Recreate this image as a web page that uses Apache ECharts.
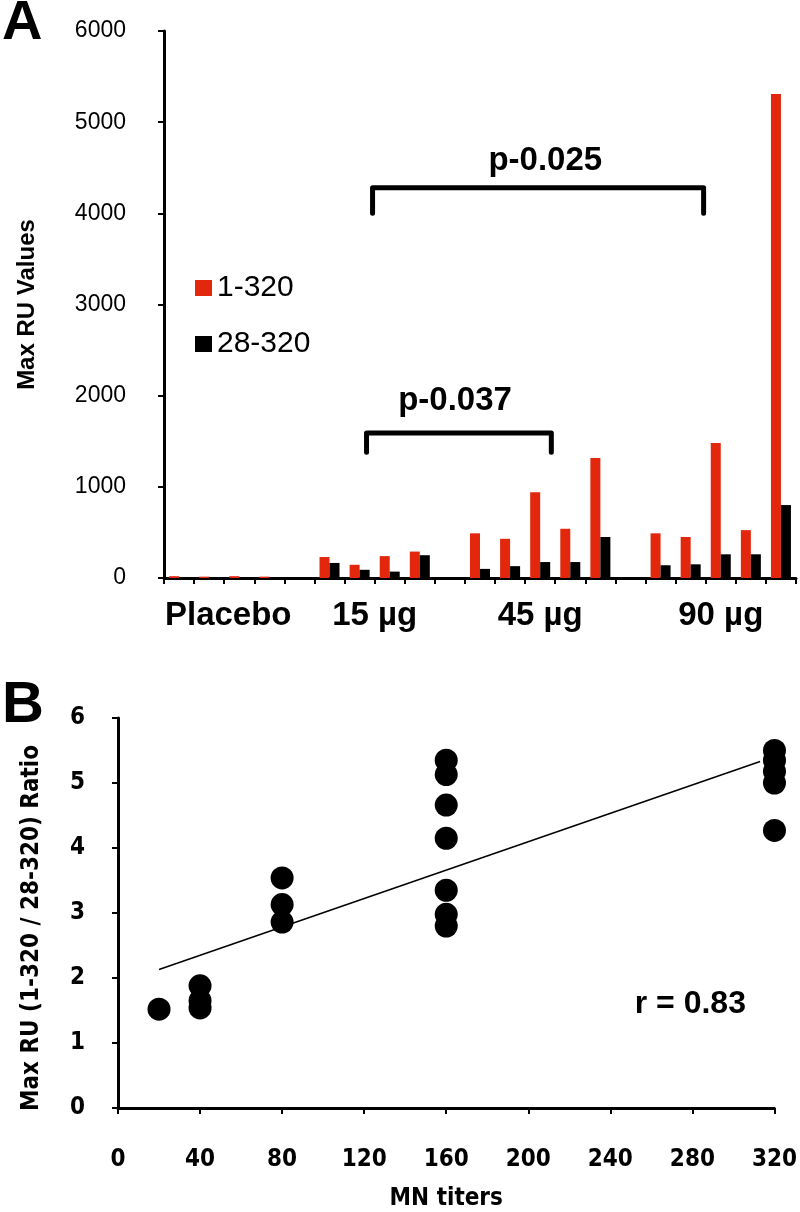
<!DOCTYPE html>
<html><head><meta charset="utf-8">
<script src="https://cdn.jsdelivr.net/npm/echarts@6/dist/echarts.min.js"></script>
<style>html,body{margin:0;padding:0;background:#fff}#c{width:800px;height:1212px}</style>
</head><body><div id="c"></div>
<script>
// ---------- Panel A data ----------
const categories = ['P1','P2','P3','P4','g1','15-1','15-2','15-3','15-4','g2','45-1','45-2','45-3','45-4','45-5','g3','90-1','90-2','90-3','90-4','90-5'];
const groupLabels = {'P3':'Placebo','15-3':'15 µg','45-3':'45 µg','90-3':'90 µg'};
const ru1_320  = [20,15,20,15,null,230,145,240,290,null,490,430,940,540,1315,null,490,450,1480,525,5310];
const ru28_320 = [4,4,4,4,null,165,90,70,250,null,100,130,175,175,450,null,140,150,260,260,800];
const yMaxA = 6000, yStepA = 1000;
// brackets in (category index, value) units
const bracket025 = [[6.43,4000],[6.43,4280],[17.43,4280],[17.43,4000]];
const bracket037 = [[6.23,1380],[6.23,1590],[12.37,1590],[12.37,1380]];
const pLabels = [{name:'p-0.025', value:[12.17,4572]},{name:'p-0.037', value:[9.17,1940]}];

// ---------- Panel B data ----------
const titers = [20, 40,40,40, 80,80,80, 160,160,160,160,160,160,160, 320,320,320,320,320];
const ratios = [1.52, 1.88,1.65,1.54, 3.54,3.13,2.86, 5.35,5.13,4.66,4.15,3.35,2.98,2.80, 5.50,5.35,5.18,5.00,4.27];
const fitLine = [[20,2.13],[313,5.33]];
const rLabel = [{name:'r = 0.83', value:[279,1.59]}];
const xMaxB = 320, xStepB = 40, yMaxB = 6, yStepB = 1;

const SANS = "'Liberation Sans', Arial, Helvetica, sans-serif";
const NARROW = "'Liberation Sans Narrow', 'DejaVu Sans Condensed', 'Liberation Sans', sans-serif";
const RED = '#e2270d';

const chart = echarts.init(document.getElementById('c'), null, {renderer:'canvas'});
const bScatter = titers.map((t,i)=>[t, ratios[i]]);

const option = {
  animation:false,
  backgroundColor:'#fff',
  graphic:[
    {type:'text', left:2, top:-4, style:{text:'A', font:'bold 56px ' + SANS, fill:'#000'}},
    {type:'text', left:2, top:677, style:{text:'B', font:'bold 58px ' + SANS, fill:'#000'}}
  ],
  legend:{
    data:['1-320','28-320'], orient:'vertical', left:190, top:268,
    icon:'rect', itemWidth:17, itemHeight:16, itemGap:26,
    textStyle:{fontSize:30, lineHeight:30, color:'#000', fontFamily:SANS}
  },
  grid:[
    {left:164, right:4, top:31, height:547},
    {left:118, width:667, top:718, height:393}
  ],
  xAxis:[
    {type:'category', gridIndex:0, data:categories,
     axisLine:{onZero:false, lineStyle:{color:'#000', width:3}},
     axisTick:{show:true, interval:0, length:6, lineStyle:{color:'#000', width:2}},
     axisLabel:{interval:0, margin:21, color:'#000', fontSize:33, fontWeight:'bold', fontFamily:SANS,
       formatter:(v)=>{
         const t = groupLabels[v]; if(!t) return '';
         if(v==='P3') return '{a|'+t+'}';
         if(v==='15-3') return '{b|'+t+'}';
         return '{c|'+t+'}';
       },
       rich:{
         a:{padding:[0,22,0,0], fontSize:33, fontWeight:'bold', fontFamily:SANS, color:'#000'},
         b:{padding:[0,30,0,0], fontSize:33, fontWeight:'bold', fontFamily:SANS, color:'#000'},
         c:{fontSize:33, fontWeight:'bold', fontFamily:SANS, color:'#000'}
       }},
     splitLine:{show:false}},
    {type:'value', gridIndex:0, min:-0.5, max:20.5, show:false, axisLine:{onZero:false}},
    {type:'value', gridIndex:1, min:0, max:xMaxB, interval:xStepB,
     axisLine:{onZero:false, lineStyle:{color:'#000', width:3}},
     axisTick:{show:true, length:6, lineStyle:{color:'#000', width:2}},
     axisLabel:{margin:40, color:'#000', fontSize:24, fontWeight:'bold', fontFamily:NARROW},
     splitLine:{show:false},
     name:'MN titers', nameLocation:'middle', nameGap:79,
     nameTextStyle:{color:'#000', fontSize:24, fontWeight:'bold', fontFamily:NARROW}}
  ],
  yAxis:[
    {type:'value', gridIndex:0, min:0, max:yMaxA, interval:yStepA,
     axisLine:{show:true, onZero:false, lineStyle:{color:'#000', width:3}},
     axisTick:{show:true, length:6, lineStyle:{color:'#000', width:2}},
     axisLabel:{margin:38, color:'#000', fontSize:23, fontFamily:SANS, formatter:(v)=>String(v)},
     splitLine:{show:false},
     name:'Max RU Values', nameLocation:'middle', nameRotate:90, nameGap:125,
     nameTextStyle:{color:'#000', fontSize:24, fontWeight:'bold', fontFamily:SANS}},
    {type:'value', gridIndex:1, min:0, max:yMaxB, interval:yStepB,
     axisLine:{show:true, onZero:false, lineStyle:{color:'#000', width:3}},
     axisTick:{show:true, length:6, lineStyle:{color:'#000', width:2}},
     axisLabel:{margin:33, color:'#000', fontSize:24, fontWeight:'bold', fontFamily:NARROW},
     splitLine:{show:false},
     name:'Max RU (1-320 / 28-320) Ratio', nameLocation:'middle', nameRotate:90, nameGap:74,
     nameTextStyle:{color:'#000', fontSize:24, fontWeight:'bold', fontFamily:NARROW, padding:[0,30,0,0]}}
  ],
  series:[
    {name:'1-320', type:'bar', xAxisIndex:0, yAxisIndex:0, data:ru1_320, barWidth:10, barGap:'0%',
     itemStyle:{color:RED}},
    {name:'28-320', type:'bar', xAxisIndex:0, yAxisIndex:0, data:ru28_320, barWidth:10, barGap:'0%',
     itemStyle:{color:'#000'}},
    {name:'br1', type:'line', xAxisIndex:1, yAxisIndex:0, data:bracket025, symbol:'none',
     lineStyle:{color:'#000', width:5, join:'round', cap:'round'}, z:5},
    {name:'br2', type:'line', xAxisIndex:1, yAxisIndex:0, data:bracket037, symbol:'none',
     lineStyle:{color:'#000', width:5, join:'round', cap:'round'}, z:5},
    {name:'plab', type:'scatter', xAxisIndex:1, yAxisIndex:0, data:pLabels, symbolSize:1,
     itemStyle:{color:'#fff', opacity:1},
     label:{show:true, position:'inside', formatter:(p)=>p.name, color:'#000', opacity:1, textBorderWidth:0,
       fontSize:33, fontWeight:'bold', fontFamily:SANS}},
    {name:'fit', type:'line', xAxisIndex:2, yAxisIndex:1, data:fitLine, symbol:'none',
     lineStyle:{color:'#000', width:1.5}, z:2},
    {name:'ratio', type:'scatter', xAxisIndex:2, yAxisIndex:1, data:bScatter, symbolSize:23,
     itemStyle:{color:'#000', opacity:1}, z:3},
    {name:'rlab', type:'scatter', xAxisIndex:2, yAxisIndex:1, data:rLabel, symbolSize:1,
     itemStyle:{color:'#fff', opacity:1},
     label:{show:true, position:'inside', formatter:(p)=>p.name, color:'#000', opacity:1, textBorderWidth:0,
       fontSize:32, fontWeight:'bold', fontFamily:SANS}}
  ]
};
chart.setOption(option);
</script></body></html>
